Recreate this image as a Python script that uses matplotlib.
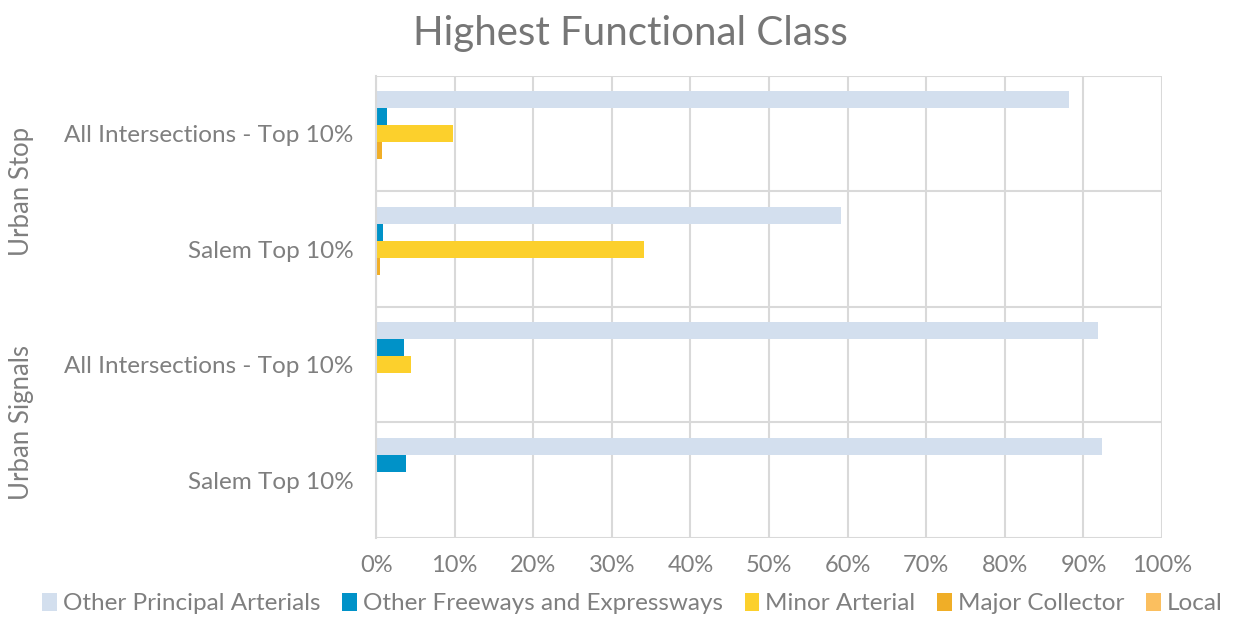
import numpy as np
import matplotlib.pyplot as plt
from matplotlib.ticker import PercentFormatter

plt.rcParams['font.family'] = ['Lato', 'DejaVu Sans']

groups = ["Urban Stop", "Urban Signals"]
categories = ["All Intersections - Top 10%", "Salem Top 10%",
              "All Intersections - Top 10%", "Salem Top 10%"]
series = ["Other Principal Arterials", "Other Freeways and Expressways",
          "Minor Arterial", "Major Collector", "Local"]
other_principal = [88.1, 59.2, 91.8, 92.3]
other_freeways = [1.4, 0.9, 3.6, 3.8]
minor_arterial = [9.8, 34.1, 4.5, 0.0]
major_collector = [0.7, 0.5, 0.0, 0.0]
local = [0.0, 0.0, 0.0, 0.0]

values = [other_principal, other_freeways, minor_arterial, major_collector, local]
colors = ["#D3DFEE", "#0092C8", "#FCD02C", "#F0AE27", "#FBBF5F"]
text_color = "#7F7F7F"
grid_color = "#D9D9D9"

fig = plt.figure(figsize=(12.33, 6.19), dpi=100)
ax = fig.add_axes([0.305, 0.131, 0.6375, 0.7465])

y = np.arange(len(categories))
h = 0.147
for i, (name, vals, c) in enumerate(zip(series, values, colors)):
    ax.barh(y + (i - 2) * h, vals, height=h, color=c, label=name)

ax.set_xlim(0, 100)
ax.set_ylim(len(categories) - 0.5, -0.5)
ax.set_xticks(np.arange(0, 101, 10))
ax.xaxis.set_major_formatter(PercentFormatter(decimals=0))
ax.set_yticks(y)
ax.set_yticklabels(categories)
ax.tick_params(axis='both', length=0, colors=text_color)
ax.tick_params(axis='y', pad=16, labelsize=17.5)
ax.tick_params(axis='x', pad=12, labelsize=17)

# vertical value gridlines and horizontal category separators
ax.set_axisbelow(True)
ax.grid(axis='x', color=grid_color, lw=1.5)
for b in np.arange(-0.5, len(categories), 1):
    ax.axhline(b, color=grid_color, lw=1.5, zorder=0)
for s in ax.spines.values():
    s.set_visible(False)
ax.spines['left'].set_visible(True)
ax.spines['left'].set_color(grid_color)
ax.spines['left'].set_linewidth(1.5)

# outer group labels
for gi, g in enumerate(groups):
    yc = 2 * gi + 0.5
    yfig = ax.transData.transform((0, yc))[1] / fig.bbox.height
    fig.text(22 / 1233, yfig, g, rotation=90, ha='center', va='center',
             color=text_color, fontsize=18.5)

fig.suptitle("Highest Functional Class", x=0.511, y=0.975, fontsize=29,
             color="#767676")

fig.legend(loc='center', bbox_to_anchor=(0.513, 0.025), ncol=5, frameon=False,
           fontsize=17.5, labelcolor=text_color, handlelength=0.6,
           handleheight=0.8, handletextpad=0.25, columnspacing=0.9)

fig.savefig("out.png", dpi=100)
